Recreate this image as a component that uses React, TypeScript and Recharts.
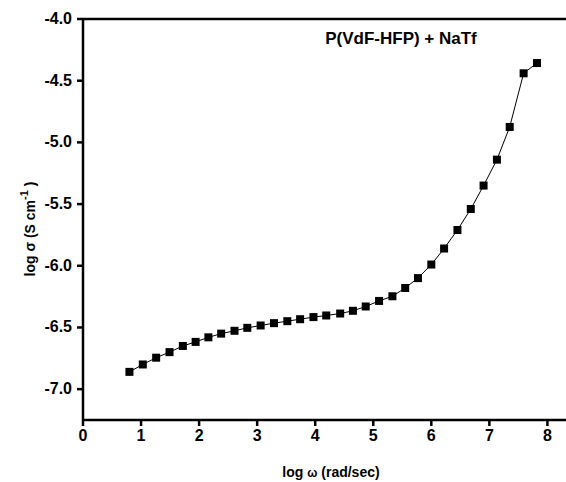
import { ComposedChart, Line, XAxis, YAxis, ReferenceLine, Label } from 'recharts'

// log ω (rad/sec)
const logOmega = [
  0.8, 1.03, 1.26, 1.49, 1.72, 1.94, 2.16, 2.38, 2.61, 2.83, 3.06, 3.29, 3.52, 3.74,
  3.97, 4.19, 4.43, 4.65, 4.87, 5.1, 5.33, 5.55, 5.77, 6.0, 6.22, 6.45, 6.68, 6.9,
  7.13, 7.35, 7.59, 7.82,
]
// log σ (S cm-1)
const logSigma = [
  -6.86, -6.8, -6.745, -6.7, -6.65, -6.617, -6.58, -6.55, -6.527, -6.503, -6.484, -6.465,
  -6.449, -6.433, -6.416, -6.403, -6.387, -6.365, -6.33, -6.285, -6.247, -6.18, -6.1,
  -5.99, -5.86, -5.71, -5.54, -5.35, -5.14, -4.875, -4.44, -4.357,
]
const xTicks = [0, 1, 2, 3, 4, 5, 6, 7, 8]
const yTicks = [-7.0, -6.5, -6.0, -5.5, -5.0, -4.5, -4.0]
const title = 'P(VdF-HFP) + NaTf'

const FONT = 'Arial, "Liberation Sans", sans-serif'

const data = logOmega.map((x, i) => ({ x, y: logSigma[i] }))

function SquareDot(props: any) {
  const { cx, cy } = props
  if (cx == null || cy == null) return null
  return <rect x={cx - 4} y={cy - 4} width={8} height={8} fill="#000" />
}

const renderXTick = (props: any) => {
  const { x, y, payload } = props
  return (
    <text
      key={`xt-${payload.value}`}
      x={x}
      y={y + 13}
      textAnchor="middle"
      style={{ fontFamily: FONT, fontWeight: 700, fontSize: 16, fill: '#000' }}
    >
      {payload.value}
    </text>
  )
}

const renderYTick = (props: any) => {
  const { x, y, payload } = props
  return (
    <text
      key={`yt-${payload.value}`}
      x={x}
      y={y + 5}
      textAnchor="end"
      style={{ fontFamily: FONT, fontWeight: 700, fontSize: 16, fill: '#000' }}
    >
      {Number(payload.value).toFixed(1)}
    </text>
  )
}

function YTitle() {
  return (
    <text
      x={30}
      y={229}
      transform="rotate(-90, 30, 229)"
      textAnchor="middle"
      dominantBaseline="central"
      style={{ fontFamily: FONT, fontWeight: 700, fontSize: 14, fill: '#000' }}
    >
      log σ (S cm
      <tspan dy={-6} style={{ fontSize: 11 }}>-1</tspan>
      <tspan dy={6}> )</tspan>
    </text>
  )
}

function XTitle() {
  return (
    <text x={331} y={477} textAnchor="middle" style={{ fontFamily: FONT, fontWeight: 700, fontSize: 14, fill: '#000' }}>
      log <tspan style={{ fontSize: 12 }}>ω</tspan> (rad/sec)
    </text>
  )
}

function ChartTitle() {
  return (
    <text x={401} y={44} textAnchor="middle" style={{ fontFamily: FONT, fontWeight: 700, fontSize: 17, fill: '#000' }}>
      {title}
    </text>
  )
}

const axisStroke = { stroke: '#000', strokeWidth: 2.5 }

export default function App() {
  return (
    <div style={{ position: 'absolute', left: 0, top: 0, width: 566, height: 482, background: '#fff' }}>
      <ComposedChart width={566} height={482} data={data} margin={{ top: 19, right: 0, left: 0, bottom: 0 }}>
        <XAxis
          type="number"
          dataKey="x"
          domain={[0, 8.32]}
          ticks={xTicks}
          allowDataOverflow
          height={62}
          axisLine={axisStroke}
          tickLine={axisStroke}
          tickSize={6}
          tickMargin={2}
          tick={renderXTick}
        >
          <Label content={XTitle} />
        </XAxis>
        <YAxis
          type="number"
          domain={[-7.25, -4]}
          ticks={yTicks}
          allowDataOverflow
          width={83}
          axisLine={axisStroke}
          tickLine={axisStroke}
          tickSize={6}
          tickMargin={5}
          tick={renderYTick}
        >
          <Label content={YTitle} />
        </YAxis>
        <ReferenceLine y={-4} stroke="#000" strokeWidth={2.5}>
          <Label content={ChartTitle} />
        </ReferenceLine>
        <Line
          type="linear"
          dataKey="y"
          stroke="#000"
          strokeWidth={1}
          dot={<SquareDot />}
          activeDot={false}
          isAnimationActive={false}
        />
      </ComposedChart>
    </div>
  )
}
